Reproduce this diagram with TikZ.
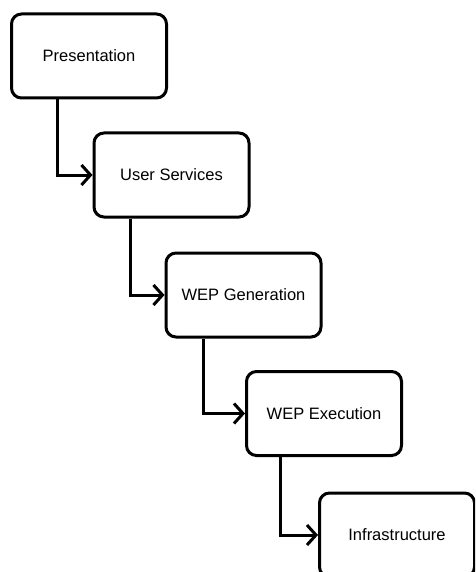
\documentclass[tikz,border=0pt]{standalone}
\usepackage{fontspec}
\setmainfont{Liberation Sans}
\usetikzlibrary{arrows.meta}
\tikzset{
  layer/.style={draw, line width=3pt, rounded corners=10pt,
    minimum width=155pt, minimum height=84pt, inner sep=0pt,
    font=\fontsize{16.5}{20}\selectfont},
  flow/.style={line width=3pt, -{Straight Barb[length=9pt,width=20pt,line width=3pt]}}
}

\begin{document}
\begin{tikzpicture}[x=1pt, y=-1pt]
%%% layered stack %%%
      \clip (0,0) rectangle (475,572);

      \node[layer] (pres)  at (89,56)    { Presentation };
      %%
      \node[layer] (user)  at (171.5,175) { User Services };
      %%
      \node[layer] (gen)   at (243.5,295) { WEP Generation };
      %%
      \node[layer] (exec)  at (324,413.5) { WEP Execution };
      %%
      \node[layer] (infra) at (397,535)  { Infrastructure };

      %% connectors
      \draw[flow] ([xshift=47pt]pres.south west) |- (user.west);
      \draw[flow] ([xshift=38pt]user.south west) |- (gen.west);
      \draw[flow] ([xshift=39pt]gen.south west)  |- (exec.west);
      \draw[flow] ([xshift=35pt]exec.south west) |- (infra.west);

\end{tikzpicture}
\end{document}
